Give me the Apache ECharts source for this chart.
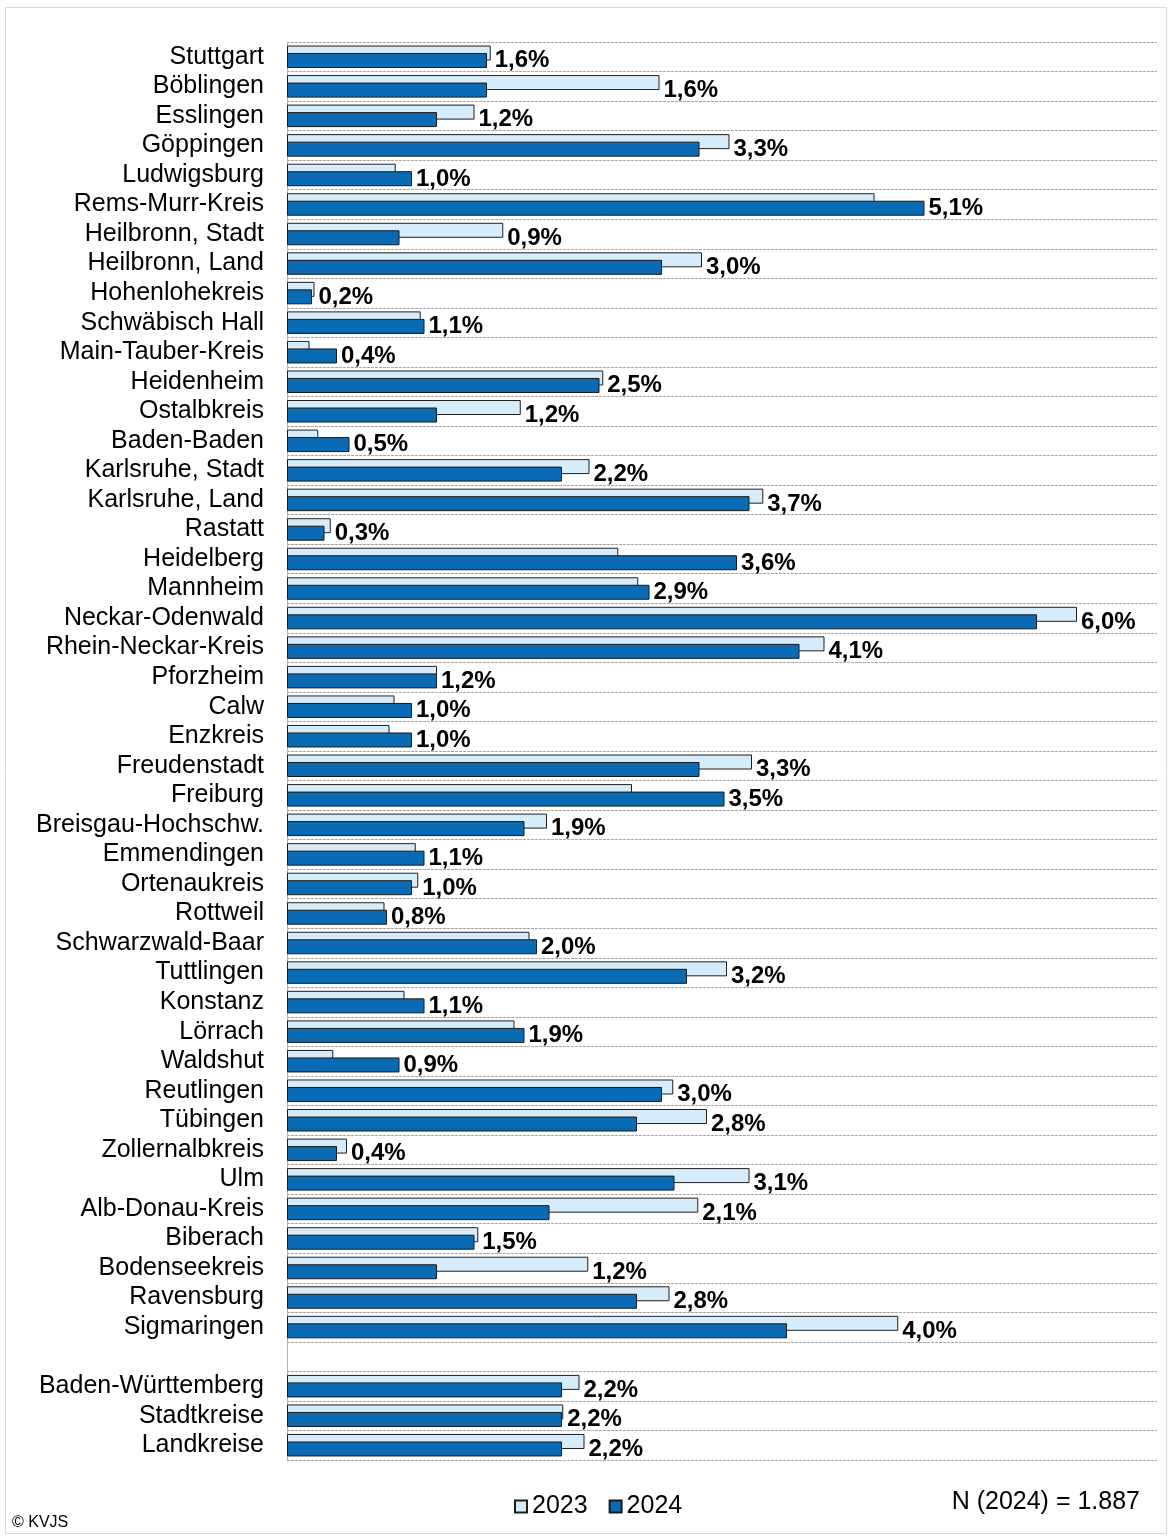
<!DOCTYPE html>
<html>
<head>
<meta charset="utf-8">
<script src="https://cdn.jsdelivr.net/npm/echarts@6/dist/echarts.min.js"></script>
<style>
  html, body { margin: 0; padding: 0; background: #fff; }
  #chart { width: 1172px; height: 1538px; }
</style>
</head>
<body>
<div id="chart"></div>
<script>
// Districts in display order; the empty entry separates the summary rows.
const categories = [
  'Stuttgart', 'Böblingen', 'Esslingen', 'Göppingen', 'Ludwigsburg', 'Rems-Murr-Kreis',
  'Heilbronn, Stadt', 'Heilbronn, Land', 'Hohenlohekreis', 'Schwäbisch Hall', 'Main-Tauber-Kreis',
  'Heidenheim', 'Ostalbkreis', 'Baden-Baden', 'Karlsruhe, Stadt', 'Karlsruhe, Land', 'Rastatt',
  'Heidelberg', 'Mannheim', 'Neckar-Odenwald', 'Rhein-Neckar-Kreis', 'Pforzheim', 'Calw',
  'Enzkreis', 'Freudenstadt', 'Freiburg', 'Breisgau-Hochschw.', 'Emmendingen', 'Ortenaukreis',
  'Rottweil', 'Schwarzwald-Baar', 'Tuttlingen', 'Konstanz', 'Lörrach', 'Waldshut', 'Reutlingen',
  'Tübingen', 'Zollernalbkreis', 'Ulm', 'Alb-Donau-Kreis', 'Biberach', 'Bodenseekreis',
  'Ravensburg', 'Sigmaringen', '', 'Baden-Württemberg', 'Stadtkreise', 'Landkreise'
];

// Share in percent, 2023
const values2023 = [
  1.63, 2.98, 1.50, 3.54, 0.87, 4.70, 1.73, 3.32, 0.22, 1.07, 0.18, 2.53, 1.87, 0.25, 2.42,
  3.81, 0.35, 2.65, 2.81, 6.32, 4.30, 1.20, 0.86, 0.82, 3.72, 2.76, 2.08, 1.03, 1.05, 0.78,
  1.94, 3.52, 0.94, 1.82, 0.37, 3.09, 3.36, 0.48, 3.70, 3.29, 1.53, 2.41, 3.06, 4.89, null,
  2.34, 2.21, 2.38
];

// Share in percent, 2024 (these are the labelled values)
const values2024 = [
  1.6, 1.6, 1.2, 3.3, 1.0, 5.1, 0.9, 3.0, 0.2, 1.1, 0.4, 2.5, 1.2, 0.5, 2.2,
  3.7, 0.3, 3.6, 2.9, 6.0, 4.1, 1.2, 1.0, 1.0, 3.3, 3.5, 1.9, 1.1, 1.0, 0.8,
  2.0, 3.2, 1.1, 1.9, 0.9, 3.0, 2.8, 0.4, 3.1, 2.1, 1.5, 1.2, 2.8, 4.0, null,
  2.2, 2.2, 2.2
];

const seriesNames = ['2023', '2024'];
const sampleNote = 'N (2024) = 1.887';
const sourceNote = '© KVJS';

const fmt = v => v.toFixed(1).replace('.', ',') + '%';

// Labels sit just past whichever of the two bars is longer.
const labelAnchors = categories.map((c, i) => {
  const a = values2023[i], b = values2024[i];
  if (b == null) return [null, i, null];
  return [Math.max(a == null ? 0 : a, b), i, b];
});

const FONT = 'Arial, "Liberation Sans", sans-serif';

const chart = echarts.init(document.getElementById('chart'), null, { renderer: 'canvas' });

chart.setOption({
  animation: false,
  backgroundColor: '#ffffff',
  grid: { left: 287, right: 15, top: 42, bottom: 78, containLabel: false },
  xAxis: {
    type: 'value',
    min: 0,
    max: 6.96,
    show: false
  },
  yAxis: {
    type: 'category',
    data: categories,
    inverse: true,
    axisLine: { show: true, lineStyle: { color: '#b0b0b0', width: 1 } },
    axisTick: { show: false },
    axisLabel: {
      interval: 0,
      margin: 23,
      color: '#000',
      fontFamily: FONT,
      fontSize: 25
    },
    splitLine: {
      show: true,
      interval: 0,
      lineStyle: { color: '#a6a6a6', type: [3, 1], width: 1 }
    }
  },
  legend: {
    data: seriesNames,
    bottom: 14,
    left: 509,
    itemWidth: 12,
    itemHeight: 12,
    itemGap: 21,
    icon: 'rect',
    textStyle: { fontFamily: FONT, fontSize: 25, color: '#000', padding: [0, 0, 0, 0] }
  },
  series: [
    {
      name: seriesNames[0],
      type: 'bar',
      data: values2023,
      barWidth: 15,
      barGap: '-50%',
      barCategoryGap: '20%',
      itemStyle: { color: '#d7ecfa', borderColor: '#1f1f1f', borderWidth: 1 },
      z: 2
    },
    {
      name: seriesNames[1],
      type: 'bar',
      data: values2024,
      barWidth: 15,
      barGap: '-50%',
      itemStyle: { color: '#0a6ab4', borderColor: '#1a1a1a', borderWidth: 1 },
      z: 3
    },
    {
      name: 'label',
      type: 'scatter',
      data: labelAnchors,
      symbolSize: 0,
      itemStyle: { color: '#000', opacity: 1 },
      silent: true,
      z: 4,
      label: {
        show: true,
        position: 'right',
        distance: 4,
        offset: [0, 4],
        fontFamily: FONT,
        fontWeight: 'bold',
        fontSize: 24,
        color: '#000',
        opacity: 1,
        textBorderWidth: 0,
        formatter: p => (p.value[2] == null ? '' : fmt(p.value[2]))
      }
    }
  ],
  graphic: [
    {
      type: 'rect',
      shape: { x: 5.5, y: 7.5, width: 1161, height: 1526 },
      style: { fill: 'none', stroke: '#d9d9d9', lineWidth: 1 },
      silent: true
    },
    {
      type: 'text',
      right: 32,
      top: 1490,
      style: { text: sampleNote, font: '25px ' + FONT, fill: '#000' }
    },
    {
      type: 'text',
      left: 12,
      top: 1515,
      style: { text: sourceNote, font: '16px ' + FONT, fill: '#000' }
    }
  ]
});
</script>
</body>
</html>
